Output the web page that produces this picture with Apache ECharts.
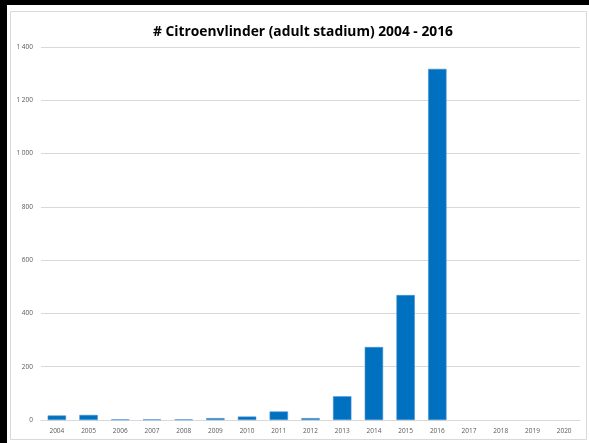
<!DOCTYPE html>
<html><head><meta charset="utf-8">
<script src="https://cdn.jsdelivr.net/npm/echarts@6/dist/echarts.min.js"></script>
<style>html,body{margin:0;padding:0;background:#fff}#c{width:589px;height:443px}</style>
</head><body><div id="c"></div>
<script>
const years = ['2004','2005','2006','2007','2008','2009','2010','2011','2012','2013','2014','2015','2016','2017','2018','2019','2020'];
const counts = [17, 19, 2, 2, 2, 7, 13, 32, 7, 89, 274, 469, 1318, null, null, null, null];
const yTicks = [0, 200, 400, 600, 800, 1000, 1200, 1400];
const titleText = '# Citroenvlinder (adult stadium) 2004 - 2016';

const chart = echarts.init(document.getElementById('c'), null, {renderer: 'canvas'});
chart.setOption({
  animation: false,
  backgroundColor: '#fff',
  graphic: [
    {type: 'rect', shape: {x: 10.5, y: 11.5, width: 576, height: 428}, style: {fill: 'none', stroke: '#D9D9D9', lineWidth: 1}, z: -1},
    {type: 'rect', shape: {x: 0, y: 0, width: 589, height: 5}, style: {fill: '#000'}},
    {type: 'rect', shape: {x: 0, y: 0, width: 7, height: 443}, style: {fill: '#000'}}
  ],
  title: {
    text: titleText, left: 298, top: 20, textAlign: 'center',
    textStyle: {fontFamily: 'Open Sans', fontWeight: 'bold', fontSize: 13.8, color: '#000'}
  },
  grid: {left: 41, right: 9, top: 47, bottom: 23, containLabel: false},
  xAxis: {
    type: 'category', data: years,
    axisLine: {show: true, lineStyle: {color: '#D9D9D9', width: 1}},
    axisTick: {show: false},
    axisLabel: {fontFamily: 'Open Sans', fontSize: 6.5, color: '#595959', margin: 8}
  },
  yAxis: {
    type: 'value', min: yTicks[0], max: yTicks[yTicks.length - 1], interval: 200,
    axisLine: {show: false}, axisTick: {show: false},
    splitLine: {lineStyle: {color: '#D9D9D9', width: 1}},
    axisLabel: {
      fontFamily: 'Open Sans', fontSize: 6.5, color: '#595959', margin: 8,
      formatter: v => String(v).replace(/\B(?=(\d{3})+(?!\d))/g, ' ')
    }
  },
  series: [{
    type: 'bar', data: counts, barWidth: '58%',
    itemStyle: {color: '#0070C0', borderColor: '#4A90D0', borderWidth: 0.6}
  }]
});
</script></body></html>
